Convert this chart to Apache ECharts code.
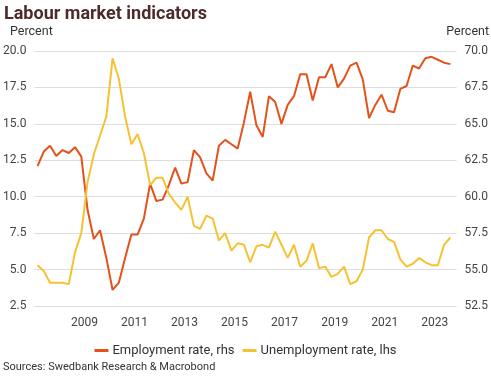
<!DOCTYPE html>
<html>
<head>
<meta charset="utf-8">
<script src="https://cdn.jsdelivr.net/npm/echarts@6/dist/echarts.min.js"></script>
<style>
  html, body { margin: 0; padding: 0; background: #fff; }
  #main { width: 491px; height: 377px; }
</style>
</head>
<body>
<div id="main"></div>
<script>
// quarterly data, 2007Q1 - 2023Q3
var startYear = 2007;
var employment = [62.1, 63.1, 63.5, 62.8, 63.2, 63.0, 63.4, 62.75, 59.1, 57.1, 57.7, 55.8, 53.6, 54.1, 55.8, 57.4,
    57.4, 58.5, 60.9, 59.7, 59.8, 60.8, 62.0, 60.9, 61.0, 63.2, 62.7, 61.6, 61.1, 63.5, 63.9, 63.6,
    63.3, 65.1, 67.2, 64.9, 64.1, 66.9, 66.5, 65.0, 66.3, 66.9, 68.4, 68.4, 66.6, 68.2, 68.2, 69.1,
    67.5, 68.1, 69.0, 69.2, 68.05, 65.4, 66.3, 67.0, 65.9, 65.8, 67.4, 67.6, 69.0, 68.8, 69.5, 69.6,
    69.4, 69.2, 69.1];
var unemployment = [5.3, 4.9, 4.1, 4.1, 4.1, 4.0, 6.2, 7.5, 11.0, 12.9, 14.2, 15.5, 19.5, 18.1, 15.5, 13.6,
    14.3, 13.0, 10.8, 11.3, 11.3, 10.2, 9.6, 9.1, 10.0, 8.0, 7.8, 8.7, 8.5, 7.0, 7.5, 6.3,
    6.8, 6.7, 5.5, 6.6, 6.7, 6.5, 7.6, 6.7, 5.8, 6.7, 5.2, 5.6, 6.8, 5.1, 5.2, 4.5,
    4.7, 5.2, 4.0, 4.2, 5.0, 7.2, 7.7, 7.7, 7.1, 6.9, 5.7, 5.2, 5.4, 5.8, 5.5, 5.3,
    5.3, 6.7, 7.2];
var leftTicks = [2.5, 20, 2.5];   // min, max, step
var rightTicks = [52.5, 70, 2.5];

// x = years since 2007, each point at the middle of its quarter
function toPoints(arr) {
    var out = [];
    for (var i = 0; i < arr.length; i++) {
        out.push([0.125 + 0.25 * i, arr[i]]);
    }
    return out;
}

var myChart = echarts.init(document.getElementById('main'));

var axisText = { color: '#444', fontSize: 12, fontFamily: 'Roboto' };

option = {
    animation: false,
    title: {
        text: 'Labour market indicators',
        left: -1,
        top: 0,
        textStyle: { color: '#4e2b2b', fontSize: 18, fontWeight: 'bold', fontFamily: 'Roboto' }
    },
    graphic: [
        { type: 'text', left: 10, top: 25, style: { text: 'Percent', fill: '#333', font: '12.5px Roboto' } },
        { type: 'text', right: 2, top: 25, style: { text: 'Percent', fill: '#333', font: '12.5px Roboto' } },
        { type: 'text', left: 3, top: 362, style: { text: 'Sources: Swedbank Research & Macrobond', fill: '#333', font: '11px Roboto' } }
    ],
    legend: {
        top: 339,
        left: 'center',
        icon: 'rect',
        itemWidth: 14,
        itemHeight: 3,
        itemGap: 8,
        textStyle: { color: '#333', fontSize: 13, fontFamily: 'Roboto', padding: [0, 0, 0, -1] },
        data: ['Employment rate, rhs', 'Unemployment rate, lhs']
    },
    grid: { left: 32, right: 32, top: 51, bottom: 71 },
    xAxis: {
        type: 'value',
        min: 0,
        max: 16.875,
        interval: 2,
        axisLine: { show: false },
        axisTick: { show: false },
        splitLine: { show: false },
        axisLabel: Object.assign({
            margin: 11,
            showMinLabel: false,
            showMaxLabel: false,
            formatter: function (v) { return String(startYear + v); }
        }, axisText)
    },
    yAxis: [
        {
            type: 'value',
            min: leftTicks[0], max: leftTicks[1], interval: leftTicks[2],
            axisLine: { show: false },
            axisTick: { show: false },
            splitLine: { lineStyle: { color: '#dedede', width: 1 } },
            axisLabel: Object.assign({ margin: 8, formatter: function (v) { return v.toFixed(1); } }, axisText)
        },
        {
            type: 'value',
            position: 'right',
            min: rightTicks[0], max: rightTicks[1], interval: rightTicks[2],
            axisLine: { show: false },
            axisTick: { show: false },
            splitLine: { show: false },
            axisLabel: Object.assign({ margin: 8, formatter: function (v) { return v.toFixed(1); } }, axisText)
        }
    ],
    series: [
        {
            name: 'Employment rate, rhs',
            type: 'line',
            yAxisIndex: 1,
            showSymbol: false,
            symbol: 'none',
            color: '#e4521b',
            lineStyle: { width: 2, color: '#e4521b' },
            data: toPoints(employment)
        },
        {
            name: 'Unemployment rate, lhs',
            type: 'line',
            yAxisIndex: 0,
            showSymbol: false,
            symbol: 'none',
            color: '#f5c233',
            lineStyle: { width: 2, color: '#f5c233' },
            data: toPoints(unemployment)
        }
    ]
};
myChart.setOption(option);
</script>
</body>
</html>
